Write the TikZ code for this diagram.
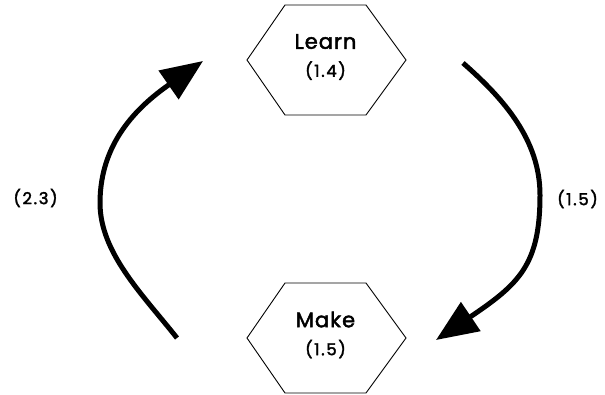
\documentclass[tikz,border=0pt]{standalone}
\usepackage{fontspec}
\setmainfont{Poppins}[FakeBold=2]
\newfontfamily\numfont{Poppins}[FakeBold=2.2, LetterSpace=10]
\newfontfamily\wordfont{Poppins}[FakeBold=2.2, LetterSpace=5]
\usetikzlibrary{arrows.meta,calc}
\tikzset{
  hexline/.style={draw=black, line width=0.9pt, line join=miter},
  stage/.style={inner sep=0pt, align=center, font=\wordfont\fontsize{21}{28}\selectfont},
  weight/.style={inner sep=0pt, font=\numfont\fontsize{16.5}{18}\selectfont},
  flow/.style={line width=5pt, -{Triangle[length=42pt,width=34pt]}},
}
% flat-topped hexagon around a node centre
\newcommand\hexaround[1]{%
  \draw[hexline] ($(#1)+(-78.5,0)$) -- ++(38,-55) -- ++(81,0) -- ++(40,55)
    -- ++(-40,55) -- ++(-81,0) -- cycle;}
\newcommand\wt[1]{{\numfont\fontsize{16.5}{18}\selectfont #1}}
\begin{document}
\begin{tikzpicture}[x=1pt,y=-1pt]
  \useasboundingbox (0,0) rectangle (605,394);
  \fill[white] (0,0) rectangle (605,394);

  % stages
  \coordinate (learnc) at (325.5,60);
  \coordinate (makec)  at (325.5,338);
  \hexaround{learnc}
  \hexaround{makec}
  \node[stage] (learn) at (325.5,57) {Learn\\\wt{(1.4)}};
  \node[stage] (make)  at (325.5,335) {Make\\\wt{(1.5)}};

  % transition weights
  \node[weight] (w23) at (35.5,198) {(2.3)};
  \node[weight] (w15) at (577.5,199) {(1.5)};

  % cycle arrows
  \coordinate (a0) at (177,338);
  \coordinate (am) at (100,203);
  \coordinate (a1) at (203,61);
  \coordinate (b0) at (463,63);
  \coordinate (bm) at (540,195);
  \coordinate (b1) at (436,340);
  \draw[flow] (a0) .. controls (143,295) and (100,253) .. (am)
              .. controls (100,143) and (137,107) .. (a1);
  \draw[flow] (b0) .. controls (504,99) and (540,140) .. (bm)
              .. controls (540,265) and (519,284) .. (b1);
\end{tikzpicture}
\end{document}
